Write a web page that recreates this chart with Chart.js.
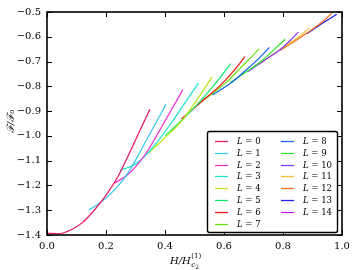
<!DOCTYPE html>
<html>
<head>
    <meta charset="utf-8">
    <title>F/F0 against H/Hc2 for L = 0..14</title>
    <script src="https://cdn.jsdelivr.net/npm/chart.js"></script>
    <style>
        html, body { margin: 0; padding: 0; background: #fff; }
        #wrap { width: 360px; height: 270px; }
    </style>
</head>
<body>
<div id="wrap"><canvas id="freeEnergy" width="360" height="270"></canvas></div>

<script>
    // branches, one pair of arrays per L
    const x0 = [0, 0.04, 0.08, 0.12, 0.16, 0.2, 0.24, 0.28, 0.32, 0.349];
    const y0 = [-1.393, -1.395, -1.38, -1.35, -1.30, -1.24, -1.165, -1.068, -0.965, -0.893];
    const x1 = [0.142, 0.176, 0.21, 0.25, 0.285, 0.315, 0.36, 0.403];
    const y1 = [-1.299, -1.273, -1.24, -1.19, -1.13, -1.066, -0.967, -0.873];
    const x2 = [0.23, 0.27, 0.30, 0.338, 0.40, 0.461];
    const y2 = [-1.19, -1.16, -1.125, -1.066, -0.94, -0.813];
    const x3 = [0.247, 0.27, 0.295, 0.32, 0.35, 0.38, 0.42, 0.46, 0.513];
    const y3 = [-1.138, -1.13, -1.117, -1.095, -1.058, -1.015, -0.95, -0.88, -0.788];
    const x4 = [0.345, 0.38, 0.42, 0.46, 0.51, 0.56];
    const y4 = [-1.068, -1.03, -0.985, -0.935, -0.852, -0.762];
    const x5 = [0.40, 0.45, 0.50, 0.55, 0.59, 0.623];
    const y5 = [-1.0, -0.945, -0.885, -0.818, -0.76, -0.708];
    const x6 = [0.456, 0.485, 0.53, 0.586, 0.63, 0.671];
    const y6 = [-0.932, -0.902, -0.855, -0.798, -0.742, -0.68];
    const x7 = [0.51, 0.56, 0.61, 0.654, 0.69, 0.719];
    const y7 = [-0.872, -0.83, -0.782, -0.728, -0.685, -0.649];
    const x8 = [0.56, 0.62, 0.677, 0.72, 0.754];
    const y8 = [-0.835, -0.79, -0.732, -0.685, -0.643];
    const x9 = [0.62, 0.68, 0.73, 0.77, 0.807];
    const y9 = [-0.785, -0.738, -0.695, -0.652, -0.61];
    const x10 = [0.68, 0.70, 0.75, 0.79, 0.82, 0.852];
    const y10 = [-0.742, -0.725, -0.685, -0.652, -0.62, -0.581];
    const x11 = [0.72, 0.77, 0.82, 0.86, 0.889];
    const y11 = [-0.71, -0.668, -0.628, -0.595, -0.563];
    const x12 = [0.79, 0.84, 0.89, 0.942, 0.965];
    const y12 = [-0.655, -0.618, -0.578, -0.531, -0.505];
    const x13 = [0.88, 0.92, 0.95, 0.982];
    const y13 = [-0.588, -0.556, -0.533, -0.509];
    const x14 = [];
    const y14 = [];

    const branchX = [x0, x1, x2, x3, x4, x5, x6, x7, x8, x9, x10, x11, x12, x13, x14];
    const branchY = [y0, y1, y2, y3, y4, y5, y6, y7, y8, y9, y10, y11, y12, y13, y14];
    const labels = ['0', '1', '2', '3', '4', '5', '6', '7', '8', '9', '10', '11', '12', '13', '14'];

    const colors = [
        'rgb(232,22,104)', 'rgb(60,200,240)', 'rgb(240,50,210)', 'rgb(30,228,200)',
        'rgb(190,230,20)', 'rgb(20,230,110)', 'rgb(240,20,20)', 'rgb(100,230,20)',
        'rgb(20,100,230)', 'rgb(50,230,50)', 'rgb(130,60,240)', 'rgb(245,190,50)',
        'rgb(245,110,30)', 'rgb(30,30,230)', 'rgb(200,30,230)'
    ];

    const xTicks = [0, 0.2, 0.4, 0.6, 0.8, 1.0];
    const yTicks = [-1.4, -1.3, -1.2, -1.1, -1.0, -0.9, -0.8, -0.7, -0.6, -0.5];

    const serif = "'DejaVu Serif', serif";

    const datasets = branchX.map(function(xs, i) {
        return {
            label: 'L = ' + labels[i],
            data: xs.map(function(x, j) { return {x: x, y: branchY[i][j]}; }),
            borderColor: colors[i],
            backgroundColor: colors[i],
            borderWidth: 1.25,
            pointRadius: 0,
            showLine: true,
            cubicInterpolationMode: 'monotone'
        };
    });

    // box round the plot, inward ticks on all four sides, axis titles
    const framePlugin = {
        id: 'frame',
        afterDatasetsDraw(chart) {
            const ctx = chart.ctx;
            const a = chart.chartArea;
            const sx = chart.scales.x, sy = chart.scales.y;
            ctx.save();
            ctx.strokeStyle = '#000';
            ctx.lineWidth = 1;
            ctx.beginPath();
            sx.ticks.forEach(function(t) {
                const px = Math.round(sx.getPixelForValue(t.value)) + 0.5;
                ctx.moveTo(px, a.bottom); ctx.lineTo(px, a.bottom - 5);
                ctx.moveTo(px, a.top); ctx.lineTo(px, a.top + 5);
            });
            sy.ticks.forEach(function(t) {
                const py = Math.round(sy.getPixelForValue(t.value)) + 0.5;
                ctx.moveTo(a.left, py); ctx.lineTo(a.left + 5, py);
                ctx.moveTo(a.right, py); ctx.lineTo(a.right - 5, py);
            });
            ctx.stroke();
            ctx.lineWidth = 1.6;
            ctx.strokeRect(a.left, a.top, a.right - a.left, a.bottom - a.top);

            // y title
            ctx.fillStyle = '#000';
            ctx.save();
            ctx.translate(11, (a.top + a.bottom) / 2 - 2);
            ctx.rotate(-Math.PI / 2);
            ctx.textAlign = 'center';
            ctx.textBaseline = 'middle';
            ctx.font = 'italic 10px ' + serif;
            ctx.fillText('\u2131/\u2131\u2080', 0, 0);
            ctx.restore();

            // x title H/H_c2^(1)
            ctx.textAlign = 'left';
            ctx.textBaseline = 'alphabetic';
            let tx = 170, ty = 264;
            ctx.font = 'italic 10px ' + serif;
            ctx.fillText('H/H', tx, ty);
            tx += ctx.measureText('H/H').width + 0.5;
            ctx.font = '7px ' + serif;
            ctx.fillText('(1)', tx, ty - 6);
            ctx.font = 'italic 7px ' + serif;
            ctx.fillText('c', tx, ty + 3);
            const cw = ctx.measureText('c').width;
            ctx.font = '6px ' + serif;
            ctx.fillText('2', tx + cw, ty + 5);
            ctx.restore();
        }
    };

    // legend drawn inside the plot, two columns
    const legendPlugin = {
        id: 'boxLegend',
        afterDraw(chart) {
            const ctx = chart.ctx;
            const left = 207.5, top = 131.5, right = 337.5, bottom = 232.5;
            ctx.save();
            ctx.fillStyle = '#fff';
            ctx.strokeStyle = '#000';
            ctx.lineWidth = 1.4;
            ctx.beginPath();
            ctx.roundRect(left, top, right - left, bottom - top, 2);
            ctx.fill();
            ctx.stroke();
            chart.data.datasets.forEach(function(ds, i) {
                const col = i < 8 ? 0 : 1;
                const row = i % 8;
                const lx = col === 0 ? 215 : 281;
                const ly = Math.round(140.7 + row * 11.9) + 0.5;
                ctx.strokeStyle = ds.borderColor;
                ctx.lineWidth = 1.25;
                ctx.beginPath();
                ctx.moveTo(lx, ly);
                ctx.lineTo(lx + 13, ly);
                ctx.stroke();
                ctx.fillStyle = '#000';
                ctx.textBaseline = 'middle';
                ctx.font = 'italic 8.5px ' + serif;
                const tx = lx + 22;
                ctx.fillText('L', tx, ly);
                const w = ctx.measureText('L').width;
                ctx.font = '8.5px ' + serif;
                ctx.fillText(' = ' + labels[i], tx + w, ly);
            });
            ctx.restore();
        }
    };

    new Chart(document.getElementById('freeEnergy'), {
        type: 'scatter',
        data: { datasets: datasets },
        plugins: [framePlugin, legendPlugin],
        options: {
            responsive: false,
            animation: false,
            devicePixelRatio: 1,
            layout: { padding: { top: 6, right: 18, left: 0, bottom: 0 } },
            plugins: {
                legend: { display: false },
                tooltip: { enabled: false }
            },
            scales: {
                x: {
                    type: 'linear',
                    min: 0,
                    max: 1,
                    afterFit: function(s) { s.height = 35; },
                    afterBuildTicks: function(s) { s.ticks = xTicks.map(function(v) { return {value: v}; }); },
                    grid: { display: false, drawTicks: false },
                    border: { display: false },
                    ticks: {
                        padding: 5,
                        color: '#000',
                        font: { family: serif, size: 10 },
                        callback: function(v) { return v.toFixed(1); }
                    }
                },
                y: {
                    type: 'linear',
                    min: -1.4,
                    max: -0.5,
                    afterFit: function(s) { s.width = 47; },
                    afterBuildTicks: function(s) { s.ticks = yTicks.map(function(v) { return {value: v}; }); },
                    grid: { display: false, drawTicks: false },
                    border: { display: false },
                    ticks: {
                        padding: 6,
                        color: '#000',
                        font: { family: serif, size: 10 },
                        callback: function(v) { return v.toFixed(1).replace('-', '\u2212'); }
                    }
                }
            }
        }
    });
</script>
</body>
</html>
